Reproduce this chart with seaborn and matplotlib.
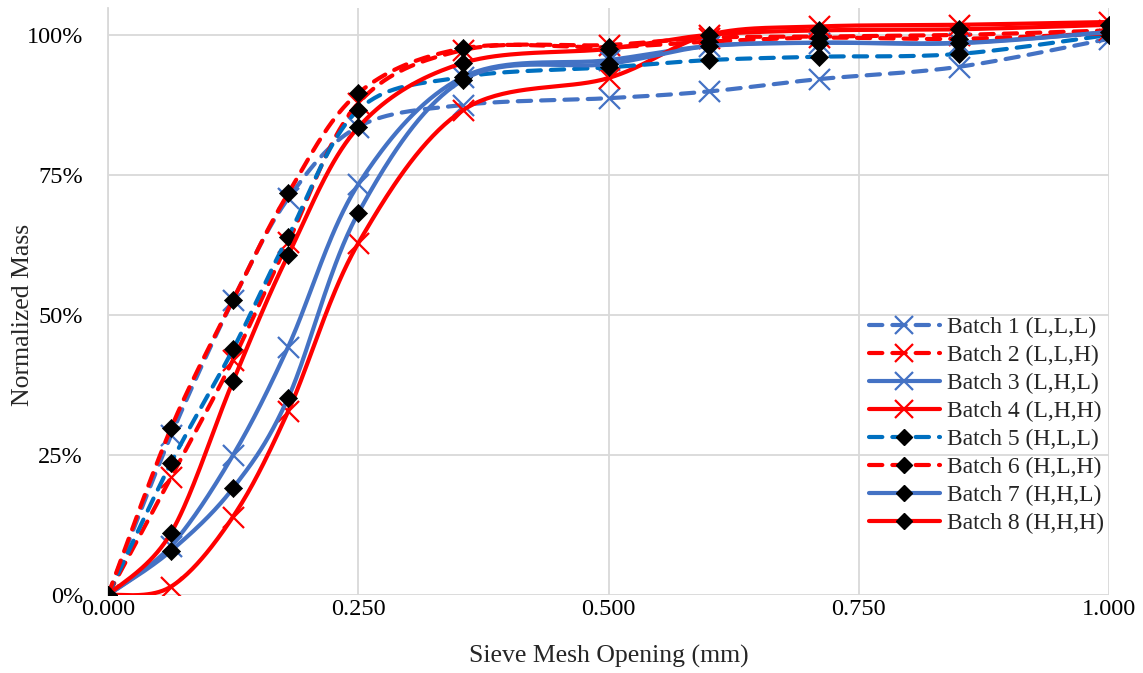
import numpy as np
import pandas as pd
import matplotlib
matplotlib.use("Agg")
import matplotlib.pyplot as plt
from matplotlib.lines import Line2D
import seaborn as sns

# ---------------- data ----------------
sieve_mm = [0.000, 0.063, 0.125, 0.180, 0.250, 0.355, 0.500, 0.600, 0.710, 0.850, 1.000]

batch_labels = ["Batch 1 (L,L,L)", "Batch 2 (L,L,H)", "Batch 3 (L,H,L)", "Batch 4 (L,H,H)",
                "Batch 5 (H,L,L)", "Batch 6 (H,L,H)", "Batch 7 (H,H,L)", "Batch 8 (H,H,H)"]

batch1 = [0.0, 28.5, 52.7, 70.8, 83.6, 87.5, 88.7, 89.9, 92.1, 94.3, 99.3]
batch2 = [0.0, 21.0, 42.0, 63.0, 87.8, 97.3, 98.2, 99.5, 99.7, 100.0, 100.8]
batch3 = [0.0, 8.8, 25.0, 44.3, 73.3, 92.5, 95.5, 98.0, 98.6, 98.6, 100.5]
batch4 = [0.0, 1.5, 14.0, 32.8, 62.8, 86.6, 92.3, 100.0, 101.5, 101.8, 102.3]
batch5 = [0.0, 23.6, 43.9, 64.0, 86.6, 92.5, 94.2, 95.5, 96.1, 96.6, 100.0]
batch6 = [0.0, 29.8, 52.7, 71.7, 89.6, 97.6, 97.8, 98.8, 99.5, 99.3, 100.3]
batch7 = [0.0, 7.9, 19.1, 35.2, 68.2, 92.0, 94.8, 98.0, 98.6, 98.5, 100.5]
batch8 = [0.0, 11.1, 38.2, 60.7, 83.5, 95.0, 97.5, 100.0, 100.8, 101.0, 101.8]

series = [batch1, batch2, batch3, batch4, batch5, batch6, batch7, batch8]

x_ticks = [0.0, 0.25, 0.5, 0.75, 1.0]
y_ticks = [0, 25, 50, 75, 100]

# ---------------- styles ----------------
BLUE = "#4472C4"
DBLUE = "#0070C0"
RED = "#FF0000"
colors = [BLUE, RED, BLUE, RED, DBLUE, RED, BLUE, RED]
dashed = [True, True, False, False, True, True, False, False]
markers = ["x", "x", "x", "x", "D", "D", "D", "D"]


def excel_smooth(x, y, n=40):
    """Bezier smoothing like Excel's 'smoothed line' rendering."""
    pts = np.column_stack([x, y]).astype(float)
    out = []
    t = np.linspace(0, 1, n)[:, None]
    for i in range(len(pts) - 1):
        p0 = pts[i - 1] if i > 0 else pts[i]
        p1 = pts[i]
        p2 = pts[i + 1]
        p3 = pts[i + 2] if i + 2 < len(pts) else pts[i + 1]
        c1 = p1 + (p2 - p0) / 6.0
        c2 = p2 - (p3 - p1) / 6.0
        seg = ((1 - t) ** 3) * p1 + 3 * ((1 - t) ** 2) * t * c1 + 3 * (1 - t) * t ** 2 * c2 + t ** 3 * p2
        out.append(seg if i == 0 else seg[1:])
    return np.vstack(out)


sns.set_theme(style="white")
plt.rcParams["font.family"] = ["Liberation Serif", "DejaVu Serif"]

fig = plt.figure(figsize=(11.43, 6.73), dpi=100)
ax = fig.add_axes([108 / 1143, 1 - 595 / 673, (1109 - 108) / 1143, (595 - 8) / 673])

LW = 3.0
DASH = (3.2, 2.4)
for k, (vals, lab) in enumerate(zip(series, batch_labels)):
    sm = excel_smooth(sieve_mm, vals)
    df_line = pd.DataFrame({"x": sm[:, 0], "y": sm[:, 1]})
    sns.lineplot(data=df_line, x="x", y="y", sort=False, estimator=None, ax=ax,
                 color=colors[k], lw=LW, zorder=3 + 2 * k, legend=False)
    ln = ax.lines[-1]
    ln.set_solid_capstyle("round")
    if dashed[k]:
        ln.set_dashes(DASH)
        ln.set_dash_capstyle("round")
    df_pts = pd.DataFrame({"x": sieve_mm, "y": vals})
    if markers[k] == "x":
        sns.scatterplot(data=df_pts, x="x", y="y", marker="x", s=230, color=colors[k],
                        linewidth=1.6, ax=ax, zorder=4 + 2 * k, legend=False)
    else:
        sns.scatterplot(data=df_pts, x="x", y="y", marker="D", s=85, color="black",
                        edgecolor="black", linewidth=0.5, ax=ax, zorder=4 + 2 * k, legend=False)

ax.set_xlim(0, 1.0)
ax.set_ylim(0, 104.8)
ax.set_xticks(x_ticks)
ax.set_xticklabels([f"{v:.3f}" for v in x_ticks], fontsize=17.5)
ax.set_yticks(y_ticks)
ax.set_yticklabels([f"{v}%" for v in y_ticks], fontsize=17.5)
ax.tick_params(axis="x", length=0, pad=3, colors="#000000")
ax.tick_params(axis="y", length=0, pad=18, colors="#000000")
ax.grid(True, color="#D9D9D9", lw=1.3, zorder=0)
ax.set_axisbelow(True)
for s in ["top", "right", "bottom"]:
    ax.spines[s].set_visible(False)
ax.spines["left"].set_color("#D9D9D9")
ax.spines["left"].set_linewidth(1.3)

ax.set_xlabel("Sieve Mesh Opening (mm)", fontsize=18.5)
ax.set_ylabel("Normalized Mass", fontsize=18.5)
ax.xaxis.set_label_coords(0.5, (595 - 656) / 587)
ax.xaxis.label.set_va("center")
ax.yaxis.set_label_coords((23 - 108) / 1001, 50 / 104.8)
ax.yaxis.label.set_va("center")

handles = []
for k in range(8):
    ls = (0, DASH) if dashed[k] else "-"
    if markers[k] == "x":
        h = Line2D([], [], color=colors[k], lw=LW, ls=ls,
                   marker="x", markersize=13, markeredgewidth=1.6, markeredgecolor=colors[k],
                   dash_capstyle="round", solid_capstyle="round")
    else:
        h = Line2D([], [], color=colors[k], lw=LW, ls=ls,
                   marker="D", markersize=8.5, markerfacecolor="black", markeredgecolor="black",
                   dash_capstyle="round", solid_capstyle="round")
    handles.append(h)

leg = fig.legend(handles, batch_labels, loc="upper left", bbox_to_anchor=(869 / 1143, 1 - 317 / 673),
                 frameon=False, fontsize=17, handlelength=3.0, labelspacing=0.27,
                 handletextpad=0.3, borderaxespad=0, borderpad=0, markerfirst=True)

fig.savefig("out.png", dpi=100)
